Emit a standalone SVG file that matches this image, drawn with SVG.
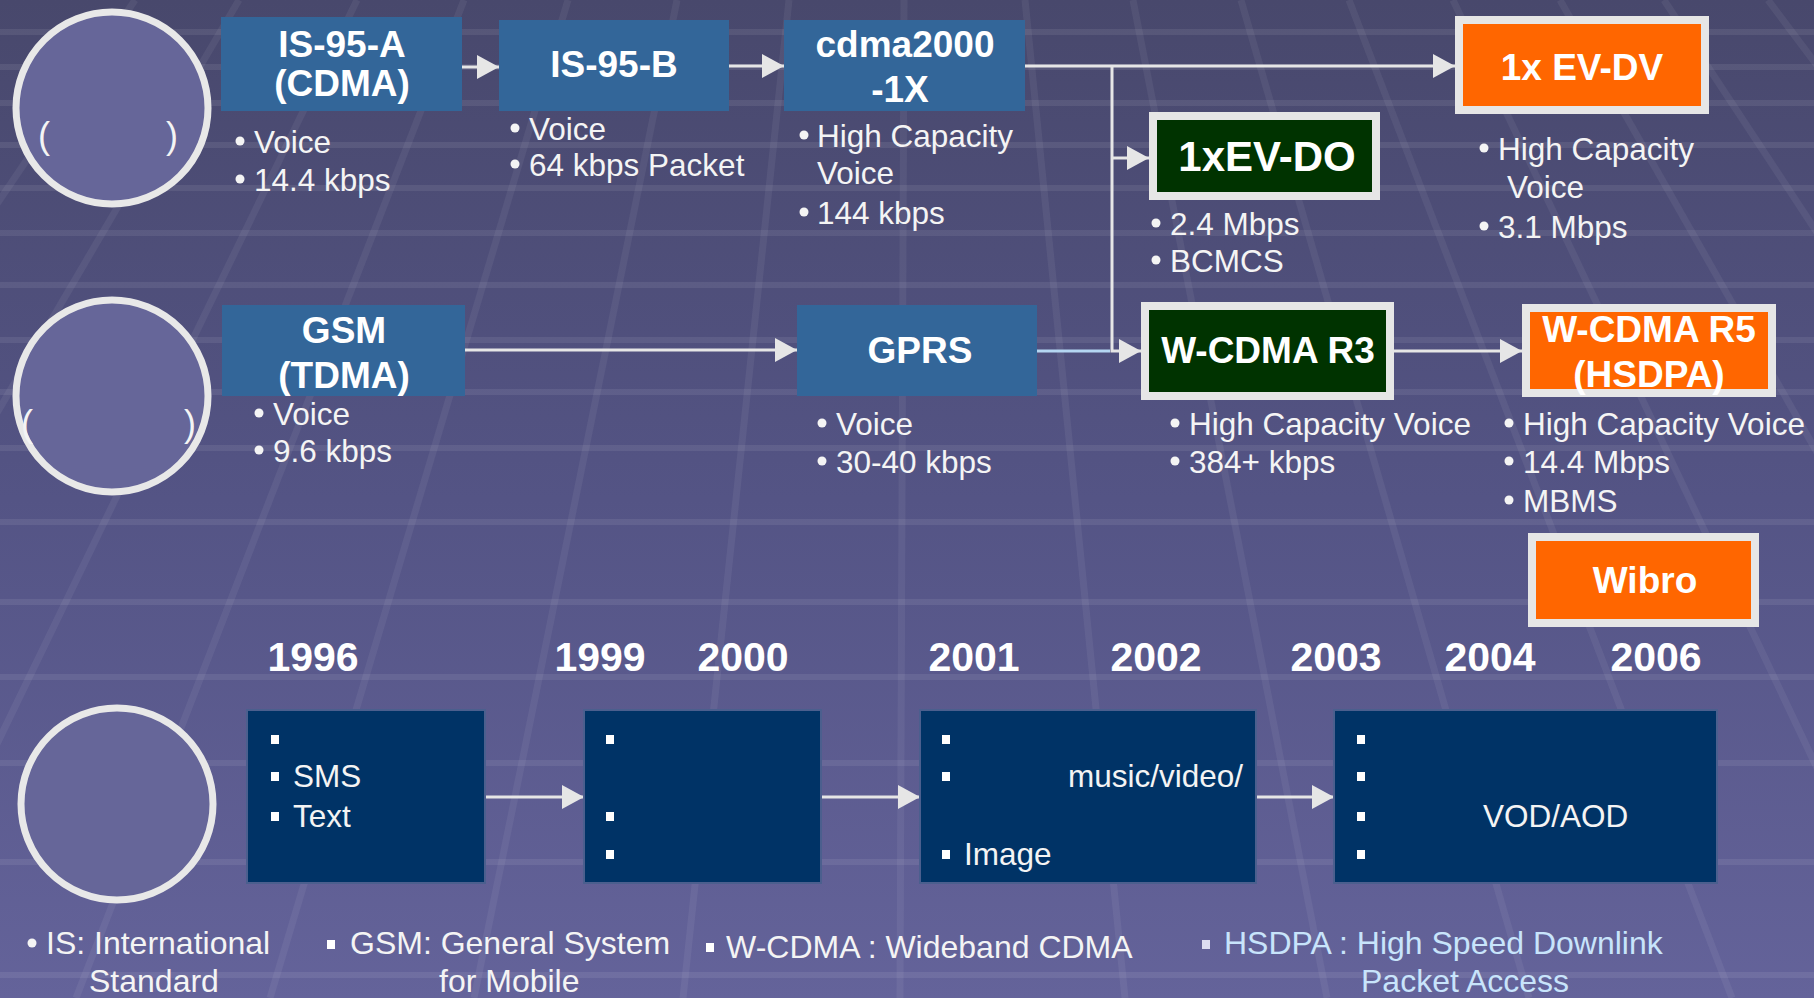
<svg xmlns="http://www.w3.org/2000/svg" width="1814" height="998" viewBox="0 0 1814 998">
<defs>
  <linearGradient id="bg" x1="0" y1="0" x2="0" y2="1">
    <stop offset="0" stop-color="#48486c"/>
    <stop offset="0.5" stop-color="#545485"/>
    <stop offset="1" stop-color="#64639a"/>
  </linearGradient>
  <marker id="arr" markerUnits="userSpaceOnUse" markerWidth="22" markerHeight="24" refX="22" refY="12" orient="auto">
    <path d="M0,0 L22,12 L0,24 z" fill="#e6e6e6"/>
  </marker>
  <style>
    .t{font-family:"Liberation Sans",Arial,sans-serif;fill:#ffffff}
    .lbl{font-weight:bold;font-size:37px;text-anchor:middle}
    .b{font-size:31.5px;fill:#f4f4f4}
    .yr{font-weight:bold;font-size:41px;text-anchor:middle}
    .lg{font-size:32px;fill:#f4f4f4}
    .lgb{font-size:31px;fill:#c8e4fb}
    .par{font-size:36px;fill:#f4f4f4}
    .dot{fill:#f4f4f4}
    .sq{fill:#ffffff}
    .c{fill:none;stroke:#e6e6e6;stroke-width:3}
    .circ{fill:#666699;stroke:#e8e8e8;stroke-width:7}
    .blue{fill:#336699}
    .green{fill:#003300;stroke:#e6e6e6;stroke-width:8}
    .orange{fill:#ff6600;stroke:#e6e6e6;stroke-width:8}
    .navy{fill:#003366;stroke:#4b5f8e;stroke-width:2}
    .gv{stroke:#ffffff;stroke-opacity:0.06;stroke-width:7}
    .gh{stroke:#ffffff;stroke-opacity:0.08;stroke-width:6}
  </style>
</defs>
<rect x="0" y="0" width="1814" height="998" fill="url(#bg)"/>
<g id="grid">
  <line class="gh" x1="0" y1="32" x2="1814" y2="32"/>
  <line class="gh" x1="0" y1="67" x2="1814" y2="67"/>
  <line class="gh" x1="0" y1="103" x2="1814" y2="103"/>
  <line class="gh" x1="0" y1="145" x2="1814" y2="145"/>
  <line class="gh" x1="0" y1="188" x2="1814" y2="188"/>
  <line class="gh" x1="0" y1="233" x2="1814" y2="233"/>
  <line class="gh" x1="0" y1="285" x2="1814" y2="285"/>
  <line class="gh" x1="0" y1="340" x2="1814" y2="340"/>
  <line class="gh" x1="0" y1="392" x2="1814" y2="392"/>
  <line class="gh" x1="0" y1="448" x2="1814" y2="448"/>
  <line class="gh" x1="0" y1="522" x2="1814" y2="522"/>
  <line class="gh" x1="0" y1="602" x2="1814" y2="602"/>
  <line class="gh" x1="0" y1="677" x2="1814" y2="677"/>
  <line class="gh" x1="0" y1="763" x2="1814" y2="763"/>
  <line class="gh" x1="0" y1="862" x2="1814" y2="862"/>
  <line class="gh" x1="0" y1="975" x2="1814" y2="975"/>
  <line class="gv" x1="135" y1="0" x2="-540" y2="998"/>
  <line class="gv" x1="239" y1="0" x2="-346" y2="998"/>
  <line class="gv" x1="357" y1="0" x2="-126" y2="998"/>
  <line class="gv" x1="464" y1="0" x2="76" y2="998"/>
  <line class="gv" x1="568" y1="0" x2="270" y2="998"/>
  <line class="gv" x1="677" y1="0" x2="474" y2="998"/>
  <line class="gv" x1="789" y1="0" x2="683" y2="998"/>
  <line class="gv" x1="904" y1="0" x2="900" y2="998"/>
  <line class="gv" x1="1025" y1="0" x2="1125" y2="998"/>
  <line class="gv" x1="1133" y1="0" x2="1327" y2="998"/>
  <line class="gv" x1="1241" y1="0" x2="1529" y2="998"/>
  <line class="gv" x1="1349" y1="0" x2="1732" y2="998"/>
  <line class="gv" x1="1453" y1="0" x2="1926" y2="998"/>
  <line class="gv" x1="1560" y1="0" x2="2127" y2="998"/>
  <line class="gv" x1="1664" y1="0" x2="2321" y2="998"/>
  <line class="gv" x1="1768" y1="0" x2="2515" y2="998"/>
</g>
<g id="connectors">
  <path class="c" d="M462,67 H499" marker-end="url(#arr)"/>
  <path class="c" d="M729,66 H784" marker-end="url(#arr)"/>
  <path class="c" d="M1025,66 H1455" marker-end="url(#arr)"/>
  <path class="c" d="M1112,66 V351 H1141" marker-end="url(#arr)"/>
  <path class="c" d="M1112,158 H1149" marker-end="url(#arr)"/>
  <path class="c" d="M465,350 H797" marker-end="url(#arr)"/>
  <path class="c" d="M1037,351 H1110" style="stroke:#b4d6f2"/>
  <path class="c" d="M1394,351 H1522" marker-end="url(#arr)"/>
  <path class="c" d="M485,797 H584" marker-end="url(#arr)"/>
  <path class="c" d="M821,797 H920" marker-end="url(#arr)"/>
  <path class="c" d="M1256,797 H1334" marker-end="url(#arr)"/>
</g>
<g id="circle-cdma">
  <circle class="circ" cx="112" cy="108" r="96"/>
  <text class="t par" x="38" y="148">(</text>
  <text class="t par" x="166" y="148">)</text>
</g>
<g id="circle-gsm">
  <circle class="circ" cx="112" cy="396" r="96"/>
  <text class="t par" x="21" y="436">(</text>
  <text class="t par" x="184" y="436">)</text>
</g>
<g id="circle-service">
  <circle class="circ" cx="117" cy="804" r="96"/>
</g>
<g id="node-is95a">
  <rect class="blue" x="221" y="17" width="241" height="94"/>
  <text class="t lbl" x="342" y="57">IS-95-A</text>
  <text class="t lbl" x="342" y="96">(CDMA)</text>
  <circle class="dot" cx="240" cy="141" r="4.5"/>
  <text class="t b" x="254" y="153">Voice</text>
  <circle class="dot" cx="240" cy="179" r="4.5"/>
  <text class="t b" x="254" y="191">14.4 kbps</text>
</g>
<g id="node-is95b">
  <rect class="blue" x="499" y="20" width="230" height="91"/>
  <text class="t lbl" x="614" y="77">IS-95-B</text>
  <circle class="dot" cx="515" cy="128" r="4.5"/>
  <text class="t b" x="529" y="140">Voice</text>
  <circle class="dot" cx="515" cy="164" r="4.5"/>
  <text class="t b" x="529" y="176">64 kbps Packet</text>
</g>
<g id="node-cdma2000">
  <rect class="blue" x="784" y="20" width="241" height="91"/>
  <text class="t lbl" x="905" y="57">cdma2000</text>
  <text class="t lbl" x="900" y="102">-1X</text>
  <circle class="dot" cx="804" cy="135" r="4.5"/>
  <text class="t b" x="817" y="147">High Capacity</text>
  <text class="t b" x="817" y="184">Voice</text>
  <circle class="dot" cx="804" cy="212" r="4.5"/>
  <text class="t b" x="817" y="224">144 kbps</text>
</g>
<g id="node-evdo">
  <rect class="green" x="1153" y="116" width="223" height="80"/>
  <text class="t lbl" x="1267" y="171" style="font-size:42px">1xEV-DO</text>
  <circle class="dot" cx="1156" cy="223" r="4.5"/>
  <text class="t b" x="1170" y="235">2.4 Mbps</text>
  <circle class="dot" cx="1156" cy="260" r="4.5"/>
  <text class="t b" x="1170" y="272">BCMCS</text>
</g>
<g id="node-evdv">
  <rect class="orange" x="1459" y="20" width="246" height="90"/>
  <text class="t lbl" x="1582" y="80">1x EV-DV</text>
  <circle class="dot" cx="1484" cy="148" r="4.5"/>
  <text class="t b" x="1498" y="160">High Capacity</text>
  <text class="t b" x="1507" y="198">Voice</text>
  <circle class="dot" cx="1484" cy="226" r="4.5"/>
  <text class="t b" x="1498" y="238">3.1 Mbps</text>
</g>
<g id="node-gsm">
  <rect class="blue" x="222" y="305" width="243" height="91"/>
  <text class="t lbl" x="344" y="343">GSM</text>
  <text class="t lbl" x="344" y="388">(TDMA)</text>
  <circle class="dot" cx="259" cy="413" r="4.5"/>
  <text class="t b" x="273" y="425">Voice</text>
  <circle class="dot" cx="259" cy="450" r="4.5"/>
  <text class="t b" x="273" y="462">9.6 kbps</text>
</g>
<g id="node-gprs">
  <rect class="blue" x="797" y="305" width="240" height="91"/>
  <text class="t lbl" x="920" y="363">GPRS</text>
  <circle class="dot" cx="822" cy="423" r="4.5"/>
  <text class="t b" x="836" y="435">Voice</text>
  <circle class="dot" cx="822" cy="461" r="4.5"/>
  <text class="t b" x="836" y="473">30-40 kbps</text>
</g>
<g id="node-wcdma-r3">
  <rect class="green" x="1145" y="306" width="245" height="90"/>
  <text class="t lbl" x="1268" y="363">W-CDMA R3</text>
  <circle class="dot" cx="1175" cy="423" r="4.5"/>
  <text class="t b" x="1189" y="435">High Capacity Voice</text>
  <circle class="dot" cx="1175" cy="461" r="4.5"/>
  <text class="t b" x="1189" y="473">384+ kbps</text>
</g>
<g id="node-wcdma-r5">
  <rect class="orange" x="1526" y="308" width="246" height="85"/>
  <text class="t lbl" x="1649" y="342">W-CDMA R5</text>
  <text class="t lbl" x="1649" y="387">(HSDPA)</text>
  <circle class="dot" cx="1509" cy="423" r="4.5"/>
  <text class="t b" x="1523" y="435">High Capacity Voice</text>
  <circle class="dot" cx="1509" cy="461" r="4.5"/>
  <text class="t b" x="1523" y="473">14.4 Mbps</text>
  <circle class="dot" cx="1509" cy="500" r="4.5"/>
  <text class="t b" x="1523" y="512">MBMS</text>
</g>
<g id="node-wibro">
  <rect class="orange" x="1532" y="537" width="223" height="86"/>
  <text class="t lbl" x="1645" y="593">Wibro</text>
</g>
<g id="years">
  <text class="t yr" x="313" y="671">1996</text>
  <text class="t yr" x="600" y="671">1999</text>
  <text class="t yr" x="743" y="671">2000</text>
  <text class="t yr" x="974" y="671">2001</text>
  <text class="t yr" x="1156" y="671">2002</text>
  <text class="t yr" x="1336" y="671">2003</text>
  <text class="t yr" x="1490" y="671">2004</text>
  <text class="t yr" x="1656" y="671">2006</text>
</g>
<g id="box-1996">
  <rect class="navy" x="247" y="710" width="238" height="173"/>
  <rect class="sq" x="271" y="735" width="8" height="9"/>
  <rect class="sq" x="271" y="772" width="8" height="9"/>
  <text class="t b" x="293" y="787">SMS</text>
  <rect class="sq" x="271" y="812" width="8" height="9"/>
  <text class="t b" x="293" y="827">Text</text>
</g>
<g id="box-1999">
  <rect class="navy" x="584" y="710" width="237" height="173"/>
  <rect class="sq" x="606" y="735" width="8" height="9"/>
  <rect class="sq" x="606" y="812" width="8" height="9"/>
  <rect class="sq" x="606" y="850" width="8" height="9"/>
</g>
<g id="box-2001">
  <rect class="navy" x="920" y="710" width="336" height="173"/>
  <rect class="sq" x="942" y="735" width="8" height="9"/>
  <rect class="sq" x="942" y="772" width="8" height="9"/>
  <text class="t b" x="1068" y="787">music/video/</text>
  <rect class="sq" x="942" y="850" width="8" height="9"/>
  <text class="t b" x="964" y="865">Image</text>
</g>
<g id="box-2003">
  <rect class="navy" x="1334" y="710" width="383" height="173"/>
  <rect class="sq" x="1357" y="735" width="8" height="9"/>
  <rect class="sq" x="1357" y="772" width="8" height="9"/>
  <rect class="sq" x="1357" y="812" width="8" height="9"/>
  <text class="t b" x="1483" y="827">VOD/AOD</text>
  <rect class="sq" x="1357" y="850" width="8" height="9"/>
</g>
<g id="legend">
  <circle class="dot" cx="32" cy="943" r="4.5"/>
  <text class="t lg" x="46" y="954">IS: International</text>
  <text class="t lg" x="89" y="992">Standard</text>
  <rect class="sq" x="327" y="940" width="8" height="9"/>
  <text class="t lg" x="350" y="954">GSM: General System</text>
  <text class="t lg" x="439" y="992">for Mobile</text>
  <rect class="sq" x="706" y="943" width="8" height="9"/>
  <text class="t lg" x="726" y="958">W-CDMA : Wideband CDMA</text>
  <rect class="sq" x="1202" y="940" width="8" height="9" style="fill:#dcdcf0"/>
  <text class="t lgb" x="1224" y="954" style="font-size:32px">HSDPA : High Speed Downlink</text>
  <text class="t lgb" x="1361" y="992" style="font-size:32px">Packet Access</text>
</g>
</svg>
